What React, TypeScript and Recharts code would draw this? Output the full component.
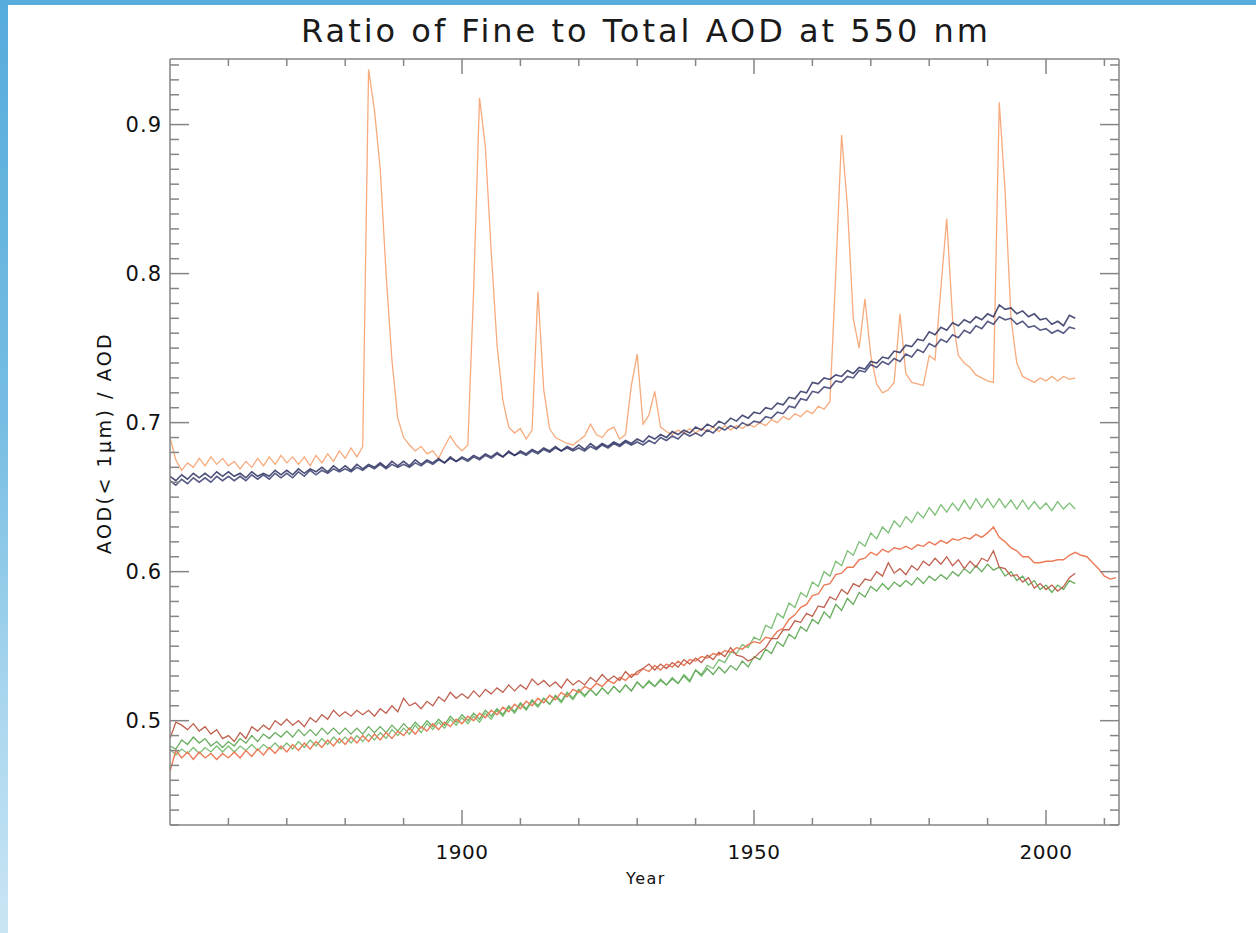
import React from "react";
import { LineChart, Line, XAxis, YAxis } from "recharts";

// ---------- categories / ticks ----------
const START_YEAR = 1850;
const X_TICKS = [1860, 1870, 1880, 1890, 1900, 1910, 1920, 1930, 1940, 1950, 1960, 1970, 1980, 1990, 2000, 2010];
const X_LABELS = [1900, 1950, 2000];
const Y_TICKS = [
  0.43, 0.44, 0.45, 0.46, 0.47, 0.48, 0.49, 0.5, 0.51, 0.52, 0.53, 0.54, 0.55, 0.56, 0.57, 0.58, 0.59,
  0.6, 0.61, 0.62, 0.63, 0.64, 0.65, 0.66, 0.67, 0.68, 0.69, 0.7, 0.71, 0.72, 0.73, 0.74, 0.75, 0.76,
  0.77, 0.78, 0.79, 0.8, 0.81, 0.82, 0.83, 0.84, 0.85, 0.86, 0.87, 0.88, 0.89, 0.9, 0.91, 0.92, 0.93, 0.94,
];
const Y_LABELS = [0.5, 0.6, 0.7, 0.8, 0.9];

// ---------- series (annual, from 1850) ----------
const PEACH_RATIO = [
  0.690, 0.675, 0.668, 0.673, 0.670, 0.676, 0.671, 0.677, 0.672, 0.676,
  0.671, 0.674, 0.669, 0.674, 0.670, 0.676, 0.671, 0.677, 0.672, 0.678,
  0.673, 0.677, 0.672, 0.677, 0.671, 0.678, 0.673, 0.679, 0.674, 0.681,
  0.676, 0.683, 0.677, 0.684, 0.937, 0.910, 0.870, 0.800, 0.742, 0.703,
  0.690, 0.685, 0.681, 0.684, 0.679, 0.681, 0.676, 0.684, 0.691, 0.685,
  0.681, 0.685, 0.790, 0.918, 0.885, 0.815, 0.752, 0.715, 0.697, 0.693,
  0.696, 0.689, 0.695, 0.788, 0.722, 0.696, 0.690, 0.688, 0.686, 0.685,
  0.688, 0.691, 0.699, 0.692, 0.690, 0.695, 0.697, 0.689, 0.692, 0.725,
  0.746, 0.699, 0.705, 0.721, 0.697, 0.694, 0.692, 0.695, 0.693, 0.696,
  0.693, 0.696, 0.694, 0.697, 0.694, 0.698, 0.695, 0.698, 0.696, 0.699,
  0.697, 0.700, 0.698, 0.702, 0.700, 0.704, 0.702, 0.706, 0.704, 0.708,
  0.706, 0.711, 0.709, 0.714, 0.800, 0.893, 0.845, 0.770, 0.750, 0.783,
  0.745, 0.726, 0.720, 0.722, 0.727, 0.773, 0.733, 0.727, 0.726, 0.725,
  0.745, 0.742, 0.790, 0.837, 0.770, 0.745, 0.740, 0.737, 0.732, 0.730,
  0.728, 0.727, 0.915, 0.855, 0.770, 0.740, 0.731, 0.729, 0.727, 0.730,
  0.728, 0.731, 0.728, 0.731, 0.729, 0.730,
];

const NAVY_A = [
  0.664, 0.661, 0.665, 0.662, 0.666, 0.663, 0.666, 0.663, 0.667, 0.664,
  0.667, 0.664, 0.666, 0.663, 0.667, 0.664, 0.666, 0.664, 0.668, 0.665,
  0.668, 0.665, 0.669, 0.666, 0.669, 0.667, 0.670, 0.667, 0.671, 0.668,
  0.671, 0.668, 0.672, 0.669, 0.672, 0.670, 0.673, 0.670, 0.674, 0.671,
  0.674, 0.671, 0.675, 0.672, 0.675, 0.673, 0.676, 0.673, 0.677, 0.674,
  0.677, 0.675, 0.678, 0.676, 0.679, 0.677, 0.680, 0.677, 0.681, 0.678,
  0.681, 0.679, 0.682, 0.680, 0.683, 0.681, 0.684, 0.681, 0.684, 0.682,
  0.685, 0.682, 0.686, 0.683, 0.686, 0.684, 0.687, 0.685, 0.688, 0.686,
  0.689, 0.687, 0.691, 0.689, 0.692, 0.690, 0.694, 0.692, 0.695, 0.693,
  0.697, 0.695, 0.699, 0.697, 0.701, 0.699, 0.703, 0.701, 0.705, 0.703,
  0.707, 0.706, 0.710, 0.709, 0.713, 0.712, 0.717, 0.716, 0.721, 0.720,
  0.727, 0.726, 0.730, 0.729, 0.732, 0.731, 0.735, 0.733, 0.737, 0.736,
  0.741, 0.740, 0.744, 0.743, 0.748, 0.747, 0.752, 0.751, 0.756, 0.755,
  0.761, 0.759, 0.764, 0.762, 0.767, 0.765, 0.769, 0.767, 0.771, 0.769,
  0.773, 0.771, 0.779, 0.776, 0.777, 0.773, 0.775, 0.771, 0.773, 0.769,
  0.770, 0.766, 0.768, 0.765, 0.772, 0.770,
];

const NAVY_B = [
  0.661, 0.658, 0.662, 0.659, 0.663, 0.660, 0.663, 0.660, 0.664, 0.661,
  0.664, 0.661, 0.664, 0.661, 0.665, 0.662, 0.665, 0.662, 0.666, 0.663,
  0.666, 0.663, 0.667, 0.664, 0.668, 0.665, 0.668, 0.666, 0.669, 0.667,
  0.669, 0.667, 0.670, 0.668, 0.671, 0.669, 0.672, 0.669, 0.672, 0.670,
  0.672, 0.670, 0.673, 0.671, 0.674, 0.672, 0.675, 0.673, 0.676, 0.674,
  0.676, 0.674, 0.677, 0.675, 0.678, 0.676, 0.679, 0.677, 0.680, 0.678,
  0.680, 0.678, 0.681, 0.679, 0.682, 0.680, 0.683, 0.681, 0.683, 0.681,
  0.683, 0.681, 0.684, 0.682, 0.685, 0.683, 0.686, 0.684, 0.687, 0.685,
  0.687, 0.685, 0.688, 0.686, 0.690, 0.688, 0.691, 0.689, 0.693, 0.691,
  0.693, 0.691, 0.695, 0.693, 0.697, 0.695, 0.698, 0.696, 0.700, 0.698,
  0.701, 0.700, 0.704, 0.703, 0.707, 0.706, 0.711, 0.710, 0.716, 0.715,
  0.721, 0.720, 0.724, 0.723, 0.728, 0.727, 0.731, 0.730, 0.735, 0.734,
  0.739, 0.737, 0.741, 0.739, 0.743, 0.741, 0.746, 0.744, 0.749, 0.747,
  0.753, 0.751, 0.756, 0.754, 0.759, 0.757, 0.762, 0.760, 0.765, 0.763,
  0.768, 0.766, 0.771, 0.769, 0.770, 0.766, 0.768, 0.764, 0.765, 0.762,
  0.763, 0.760, 0.762, 0.760, 0.764, 0.763,
];

const GREEN_TOP = [
  0.481, 0.477, 0.481, 0.478, 0.482, 0.478, 0.482, 0.479, 0.483, 0.479,
  0.483, 0.479, 0.483, 0.480, 0.484, 0.480, 0.484, 0.481, 0.485, 0.481,
  0.485, 0.481, 0.486, 0.482, 0.487, 0.483, 0.488, 0.484, 0.489, 0.485,
  0.489, 0.485, 0.490, 0.486, 0.491, 0.487, 0.492, 0.488, 0.494, 0.490,
  0.495, 0.491, 0.497, 0.492, 0.498, 0.494, 0.499, 0.495, 0.501, 0.497,
  0.502, 0.498, 0.503, 0.499, 0.505, 0.501, 0.507, 0.503, 0.509, 0.505,
  0.511, 0.507, 0.513, 0.509, 0.515, 0.511, 0.516, 0.512, 0.518, 0.514,
  0.520, 0.516, 0.521, 0.517, 0.522, 0.518, 0.523, 0.519, 0.524, 0.520,
  0.526, 0.522, 0.527, 0.523, 0.528, 0.524, 0.529, 0.525, 0.531, 0.527,
  0.534, 0.531, 0.537, 0.535, 0.541, 0.539, 0.546, 0.545, 0.551, 0.549,
  0.556, 0.554, 0.564, 0.562, 0.572, 0.569, 0.579, 0.576, 0.586, 0.583,
  0.593, 0.590, 0.600, 0.597, 0.607, 0.604, 0.614, 0.611, 0.620, 0.617,
  0.626, 0.622, 0.630, 0.626, 0.634, 0.630, 0.637, 0.633, 0.640, 0.636,
  0.643, 0.638, 0.645, 0.640, 0.646, 0.641, 0.648, 0.642, 0.649, 0.643,
  0.649, 0.643, 0.649, 0.643, 0.648, 0.642, 0.648, 0.642, 0.647, 0.642,
  0.646, 0.641, 0.647, 0.642, 0.646, 0.642,
];

const GREEN_LOW = [
  0.483, 0.481, 0.487, 0.484, 0.489, 0.485, 0.488, 0.483, 0.486, 0.482,
  0.486, 0.483, 0.488, 0.485, 0.490, 0.486, 0.491, 0.488, 0.492, 0.489,
  0.493, 0.489, 0.494, 0.490, 0.494, 0.490, 0.495, 0.491, 0.495, 0.491,
  0.495, 0.491, 0.495, 0.491, 0.496, 0.492, 0.496, 0.492, 0.497, 0.493,
  0.498, 0.494, 0.499, 0.495, 0.500, 0.496, 0.501, 0.497, 0.503, 0.499,
  0.504, 0.500, 0.505, 0.501, 0.507, 0.503, 0.508, 0.504, 0.510, 0.506,
  0.512, 0.508, 0.514, 0.510, 0.515, 0.511, 0.517, 0.513, 0.519, 0.515,
  0.521, 0.517, 0.521, 0.517, 0.522, 0.518, 0.523, 0.519, 0.524, 0.520,
  0.526, 0.522, 0.526, 0.523, 0.527, 0.524, 0.528, 0.525, 0.530, 0.526,
  0.534, 0.530, 0.535, 0.531, 0.536, 0.532, 0.537, 0.534, 0.540, 0.536,
  0.543, 0.541, 0.548, 0.545, 0.553, 0.550, 0.558, 0.555, 0.563, 0.560,
  0.568, 0.565, 0.573, 0.569, 0.578, 0.574, 0.582, 0.578, 0.586, 0.583,
  0.590, 0.587, 0.592, 0.588, 0.593, 0.590, 0.594, 0.591, 0.596, 0.592,
  0.597, 0.594, 0.598, 0.595, 0.600, 0.597, 0.602, 0.599, 0.604, 0.600,
  0.605, 0.601, 0.603, 0.597, 0.600, 0.594, 0.597, 0.591, 0.594, 0.588,
  0.591, 0.586, 0.591, 0.588, 0.594, 0.592,
];

const RED_ORANGE = [
  0.466, 0.480, 0.475, 0.479, 0.474, 0.479, 0.475, 0.478, 0.474, 0.478,
  0.475, 0.479, 0.475, 0.480, 0.476, 0.481, 0.477, 0.482, 0.478, 0.483,
  0.479, 0.484, 0.480, 0.485, 0.481, 0.486, 0.482, 0.487, 0.483, 0.488,
  0.484, 0.489, 0.485, 0.490, 0.486, 0.491, 0.487, 0.492, 0.488, 0.493,
  0.490, 0.495, 0.491, 0.496, 0.493, 0.498, 0.494, 0.499, 0.496, 0.501,
  0.498, 0.503, 0.500, 0.505, 0.502, 0.507, 0.504, 0.509, 0.506, 0.511,
  0.508, 0.513, 0.510, 0.515, 0.512, 0.517, 0.514, 0.519, 0.516, 0.521,
  0.519, 0.523, 0.521, 0.525, 0.523, 0.527, 0.525, 0.529, 0.527, 0.531,
  0.531, 0.535, 0.533, 0.537, 0.534, 0.538, 0.536, 0.540, 0.537, 0.541,
  0.540, 0.543, 0.542, 0.545, 0.544, 0.547, 0.546, 0.549, 0.548, 0.551,
  0.553, 0.552, 0.556, 0.555, 0.560, 0.562, 0.568, 0.571, 0.576, 0.578,
  0.584, 0.585, 0.591, 0.592, 0.598, 0.599, 0.603, 0.603, 0.608, 0.609,
  0.613, 0.611, 0.615, 0.613, 0.616, 0.615, 0.617, 0.615, 0.618, 0.617,
  0.620, 0.618, 0.621, 0.619, 0.622, 0.621, 0.623, 0.622, 0.625, 0.623,
  0.626, 0.630, 0.623, 0.620, 0.616, 0.614, 0.610, 0.610, 0.606, 0.606,
  0.607, 0.607, 0.608, 0.608, 0.611, 0.613, 0.611, 0.610, 0.606, 0.602,
  0.597, 0.595, 0.596,
];

const RED_BROWN = [
  0.488, 0.499, 0.497, 0.494, 0.498, 0.493, 0.496, 0.491, 0.494, 0.488,
  0.490, 0.486, 0.492, 0.488, 0.496, 0.493, 0.497, 0.494, 0.500, 0.497,
  0.501, 0.497, 0.500, 0.496, 0.502, 0.499, 0.504, 0.501, 0.507, 0.503,
  0.506, 0.503, 0.507, 0.504, 0.507, 0.503, 0.508, 0.505, 0.510, 0.506,
  0.515, 0.510, 0.512, 0.508, 0.513, 0.510, 0.516, 0.513, 0.519, 0.515,
  0.518, 0.515, 0.520, 0.516, 0.521, 0.518, 0.522, 0.519, 0.524, 0.520,
  0.524, 0.521, 0.528, 0.524, 0.527, 0.523, 0.526, 0.522, 0.528, 0.524,
  0.527, 0.524, 0.529, 0.526, 0.531, 0.527, 0.530, 0.527, 0.533, 0.529,
  0.533, 0.535, 0.538, 0.534, 0.538, 0.535, 0.539, 0.536, 0.541, 0.538,
  0.542, 0.539, 0.544, 0.541, 0.546, 0.543, 0.549, 0.544, 0.543, 0.540,
  0.542, 0.546, 0.549, 0.555, 0.555, 0.561, 0.561, 0.567, 0.566, 0.572,
  0.570, 0.577, 0.576, 0.583, 0.581, 0.588, 0.585, 0.592, 0.590, 0.595,
  0.594, 0.600, 0.597, 0.606, 0.599, 0.602, 0.598, 0.604, 0.601, 0.607,
  0.604, 0.609, 0.605, 0.610, 0.604, 0.608, 0.602, 0.607, 0.603, 0.609,
  0.607, 0.614, 0.603, 0.602, 0.597, 0.598, 0.593, 0.596, 0.589, 0.592,
  0.588, 0.591, 0.587, 0.590, 0.596, 0.599,
];

// table built from the arrays above (longest series runs to 2012)
const TABLE = RED_ORANGE.map((_, i) => ({
  year: START_YEAR + i,
  peach: PEACH_RATIO[i],
  navyA: NAVY_A[i],
  navyB: NAVY_B[i],
  greenTop: GREEN_TOP[i],
  greenLow: GREEN_LOW[i],
  redOrange: RED_ORANGE[i],
  redBrown: RED_BROWN[i],
}));

const AXIS_COLOR = "#858585";
const FONT = "'DejaVu Sans', 'Liberation Sans', sans-serif";

const isIn = (list: number[], v: number) => list.some((m) => Math.abs(m - v) < 1e-6);

function makeYTick(side: "left" | "right") {
  return (props: any) => {
    const { x, y, payload } = props;
    const v = payload.value as number;
    const major = isIn(Y_LABELS, v);
    const len = major ? 19 : 9;
    const dir = side === "left" ? 1 : -1;
    return (
      <g>
        <line x1={x} y1={y} x2={x + dir * len} y2={y} stroke={AXIS_COLOR} strokeWidth={1.5} />
        {major && side === "left" ? (
          <text x={x - 8} y={y} dy="0.36em" textAnchor="end" fontFamily={FONT} fontSize={21} fill="#111" letterSpacing={1}>
            {v.toFixed(1)}
          </text>
        ) : null}
      </g>
    );
  };
}

function makeXTick(side: "bottom" | "top") {
  return (props: any) => {
    const { x, y, payload } = props;
    const v = payload.value as number;
    const major = isIn(X_LABELS, v);
    const len = major ? 15 : 7;
    const dir = side === "bottom" ? -1 : 1;
    return (
      <g>
        <line x1={x} y1={y} x2={x} y2={y + dir * len} stroke={AXIS_COLOR} strokeWidth={1.5} />
        {major && side === "bottom" ? (
          <text x={x} y={y + 34} textAnchor="middle" fontFamily={FONT} fontSize={20} fill="#111" letterSpacing={0.5}>
            {String(v)}
          </text>
        ) : null}
      </g>
    );
  };
}

const X_DOMAIN: [number, number] = [1850, 2012.5];
const Y_DOMAIN: [number, number] = [0.43, 0.944];

export default function App() {
  const lineCommon = { dot: false, isAnimationActive: false, type: "linear" as const, connectNulls: false };
  return (
    <div style={{ position: "absolute", left: 0, top: 0, width: 1256, height: 933, background: "#ffffff", overflow: "hidden" }}>
      {/* decorative slide border */}
      <div style={{ position: "absolute", left: 0, top: 0, width: 1256, height: 5, background: "#58addc" }} />
      <div
        style={{
          position: "absolute",
          left: 0,
          top: 0,
          width: 8,
          height: 933,
          background: "linear-gradient(#56acdc 0%, #76bde3 45%, #a9d6ee 75%, #c9e5f4 100%)",
        }}
      />
      <div style={{ position: "absolute", left: 0, top: 0 }}>
        <LineChart width={1256} height={933} data={TABLE} margin={{ top: 58, right: 136, bottom: 68, left: 110 }}>
          <XAxis
            dataKey="year"
            type="number"
            domain={X_DOMAIN}
            allowDataOverflow
            ticks={X_TICKS}
            interval={0}
            height={40}
            tickSize={0}
            tickMargin={0}
            axisLine={{ stroke: AXIS_COLOR, strokeWidth: 1.5 }}
            tickLine={false}
            tick={makeXTick("bottom")}
          />
          <XAxis
            xAxisId="top"
            orientation="top"
            dataKey="year"
            type="number"
            domain={X_DOMAIN}
            allowDataOverflow
            ticks={X_TICKS}
            interval={0}
            height={1}
            tickSize={0}
            tickMargin={0}
            axisLine={{ stroke: AXIS_COLOR, strokeWidth: 1.5 }}
            tickLine={false}
            tick={makeXTick("top")}
          />
          <YAxis
            type="number"
            domain={Y_DOMAIN}
            allowDataOverflow
            ticks={Y_TICKS}
            interval={0}
            width={60}
            tickSize={0}
            tickMargin={0}
            axisLine={{ stroke: AXIS_COLOR, strokeWidth: 1.5 }}
            tickLine={false}
            tick={makeYTick("left")}
          />
          <YAxis
            yAxisId="right"
            orientation="right"
            type="number"
            domain={Y_DOMAIN}
            allowDataOverflow
            ticks={Y_TICKS}
            interval={0}
            width={1}
            tickSize={0}
            tickMargin={0}
            axisLine={{ stroke: AXIS_COLOR, strokeWidth: 1.5 }}
            tickLine={false}
            tick={makeYTick("right")}
          />
          <Line {...lineCommon} dataKey="peach" stroke="#f7ab7c" strokeWidth={1.3} />
          <Line {...lineCommon} dataKey="navyB" stroke="#3a3e70" strokeWidth={1.6} strokeOpacity={0.85} />
          <Line {...lineCommon} dataKey="navyA" stroke="#2c305f" strokeWidth={1.6} strokeOpacity={0.85} />
          <Line {...lineCommon} dataKey="greenTop" stroke="#7cbf76" strokeWidth={1.3} />
          <Line {...lineCommon} dataKey="greenLow" stroke="#68ad5e" strokeWidth={1.3} />
          <Line {...lineCommon} dataKey="redOrange" stroke="#ec7a57" strokeWidth={1.4} />
          <Line {...lineCommon} dataKey="redBrown" stroke="#c0604f" strokeWidth={1.3} />
        </LineChart>
      </div>
      {/* titles */}
      <svg width={1256} height={933} style={{ position: "absolute", left: 0, top: 0, pointerEvents: "none" }}>
        <text x={646} y={42} textAnchor="middle" fontFamily={FONT} fontSize={32} letterSpacing={3} fill="#1a1a1a">
          Ratio of Fine to Total AOD at 550 nm
        </text>
        <text x={646} y={884} textAnchor="middle" fontFamily={FONT} fontSize={16} letterSpacing={1.5} fill="#111">
          Year
        </text>
        <text
          x={0}
          y={0}
          transform="translate(104 443) rotate(-90)"
          textAnchor="middle"
          dominantBaseline="central"
          fontFamily={FONT}
          fontSize={19}
          letterSpacing={2.5}
          fill="#111"
        >
          AOD(&lt; 1μm) / AOD
        </text>
      </svg>
    </div>
  );
}
